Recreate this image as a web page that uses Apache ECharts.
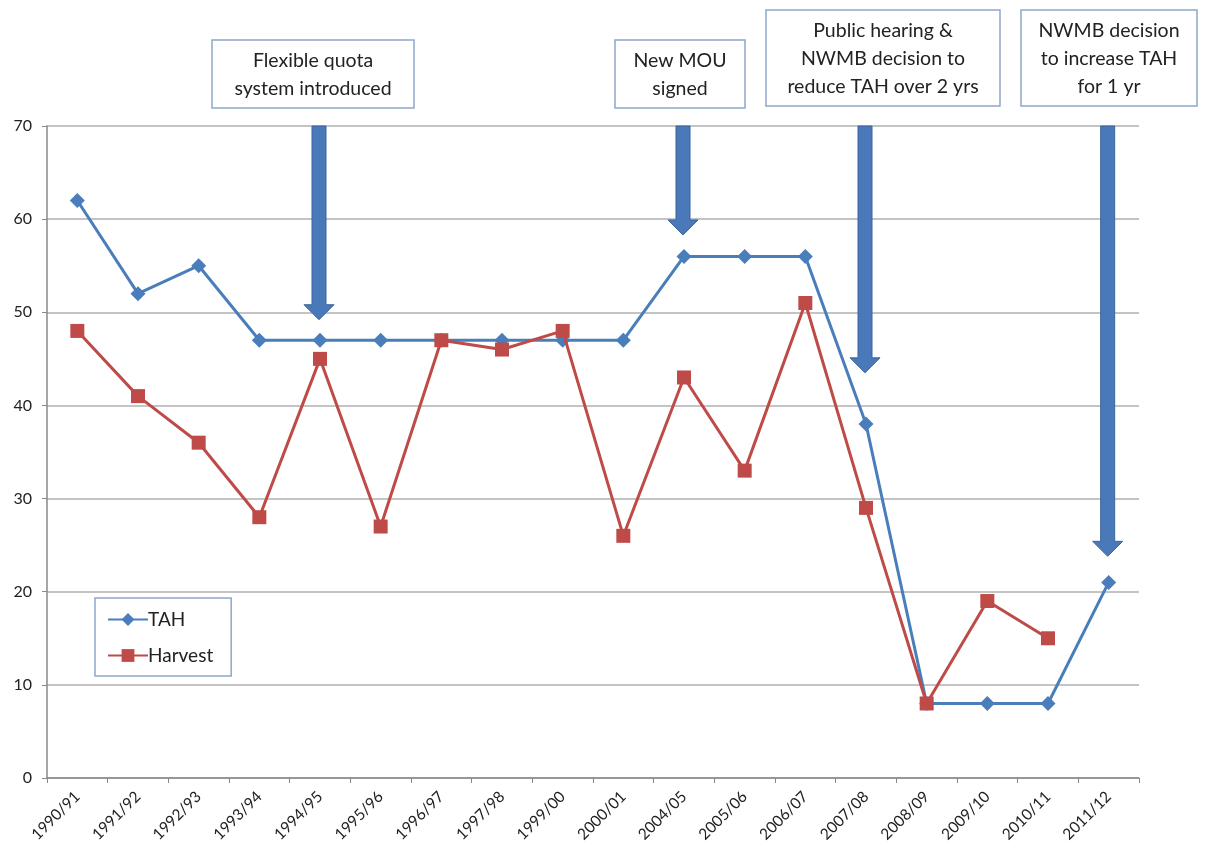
<!DOCTYPE html>
<html>
<head>
<meta charset="utf-8">
<title>TAH vs Harvest</title>
<script src="https://cdn.jsdelivr.net/npm/echarts@6/dist/echarts.min.js"></script>
<style>
  html, body { margin: 0; padding: 0; background: #fff; }
  #chart { width: 1211px; height: 852px; }
</style>
</head>
<body>
<div id="chart"></div>
<script>
// season labels on the x axis
const seasons = ['1990/91', '1991/92', '1992/93', '1993/94', '1994/95', '1995/96', '1996/97', '1997/98', '1999/00',
  '2000/01', '2004/05', '2005/06', '2006/07', '2007/08', '2008/09', '2009/10', '2010/11', '2011/12'];

// total allowable harvest
const tah = [62, 52, 55, 47, 47, 47, 47, 47, 47, 47, 56, 56, 56, 38, 8, 8, 8, 21];
// reported harvest (no value yet for 2011/12)
const harvest = [48, 41, 36, 28, 45, 27, 47, 46, 48, 26, 43, 33, 51, 29, 8, 19, 15, null];

// management events: where the arrow points, from the top of the axis down to the tip value
const eventSeasons = ['1994/95', '2004/05', '2007/08', '2011/12'];
const eventTip = [49.2, 58.3, 43.5, 23.8];
const eventText = [
  'Flexible quota\nsystem introduced',
  'New MOU\nsigned',
  'Public hearing &\nNWMB decision to\nreduce TAH over 2 yrs',
  'NWMB decision\nto increase TAH\nfor 1 yr'
];

const yMax = 70;
const font = 'Lato, "Open Sans", sans-serif';

const arrowData = eventSeasons.map((s, i) => [seasons.indexOf(s), yMax, eventTip[i]]);

// boxes sit above the plot, one per event
const boxes = [
  {x: 212, y: 40, w: 202, h: 68},
  {x: 615, y: 40, w: 130, h: 68},
  {x: 766, y: 10, w: 234, h: 96},
  {x: 1021, y: 10, w: 176, h: 96}
];

const graphics = boxes.map((b, i) => ({
  type: 'group',
  children: [
    {
      type: 'rect',
      shape: {x: b.x, y: b.y, width: b.w, height: b.h},
      style: {fill: '#fff', stroke: '#8ea8cc', lineWidth: 1.5}
    },
    {
      type: 'text',
      x: b.x + b.w / 2,
      y: b.y + b.h / 2 + 1,
      style: {
        text: eventText[i],
        font: '19.5px ' + font,
        fill: '#222',
        align: 'center',
        verticalAlign: 'middle',
        lineHeight: 28
      }
    }
  ]
}));

function renderArrow(params, api) {
  const top = api.coord([api.value(0), api.value(1)]);
  const tip = api.coord([api.value(0), api.value(2)]);
  const x = top[0] - 1;
  const shaft = 7, head = 15, headLen = 15;
  const neck = tip[1] - headLen;
  return {
    type: 'polygon',
    shape: {
      points: [
        [x - shaft, top[1]], [x + shaft, top[1]], [x + shaft, neck],
        [x + head, neck], [x, tip[1]], [x - head, neck], [x - shaft, neck]
      ]
    },
    style: {fill: '#4a79b9', stroke: '#3b659f', lineWidth: 1}
  };
}

const chart = echarts.init(document.getElementById('chart'));
chart.setOption({
  backgroundColor: '#fff',
  animation: false,
  grid: {left: 47, right: 72, top: 126, bottom: 74, containLabel: false},
  legend: {
    orient: 'vertical',
    left: 95,
    top: 598,
    padding: [12, 18, 11, 12],
    itemGap: 17,
    itemWidth: 40,
    itemHeight: 16,
    borderColor: '#8ea8cc',
    borderWidth: 1.5,
    data: ['TAH', 'Harvest'],
    textStyle: {fontFamily: font, fontSize: 19, color: '#222', padding: [0, 0, 0, -5]}
  },
  xAxis: {
    type: 'category',
    data: seasons,
    boundaryGap: true,
    axisLine: {lineStyle: {color: '#888', width: 1.5}},
    axisTick: {show: true, inside: false, length: 5, lineStyle: {color: '#888'}},
    axisLabel: {rotate: 45, interval: 0, fontFamily: font, fontSize: 15.5, color: '#222', margin: 16}
  },
  yAxis: {
    type: 'value',
    min: 0,
    max: yMax,
    interval: 10,
    axisLine: {show: true, lineStyle: {color: '#888', width: 1.5}},
    axisTick: {show: true, length: 5, lineStyle: {color: '#888'}},
    axisLabel: {fontFamily: font, fontSize: 16, color: '#222', margin: 15},
    splitLine: {lineStyle: {color: '#b0b0b0', width: 1.5}}
  },
  graphic: graphics,
  series: [
    {
      name: 'arrows',
      type: 'custom',
      renderItem: renderArrow,
      data: arrowData,
      encode: {x: 0, y: [1, 2]},
      z: 1,
      silent: true,
      legendHoverLink: false
    },
    {
      name: 'TAH',
      type: 'line',
      data: tah,
      symbol: 'diamond',
      symbolSize: 15,
      z: 3,
      lineStyle: {color: '#4a7ebb', width: 3},
      itemStyle: {color: '#4a7ebb'}
    },
    {
      name: 'Harvest',
      type: 'line',
      data: harvest,
      symbol: 'rect',
      symbolSize: 14,
      z: 4,
      lineStyle: {color: '#be4b48', width: 3},
      itemStyle: {color: '#be4b48'}
    }
  ]
});
</script>
</body>
</html>
